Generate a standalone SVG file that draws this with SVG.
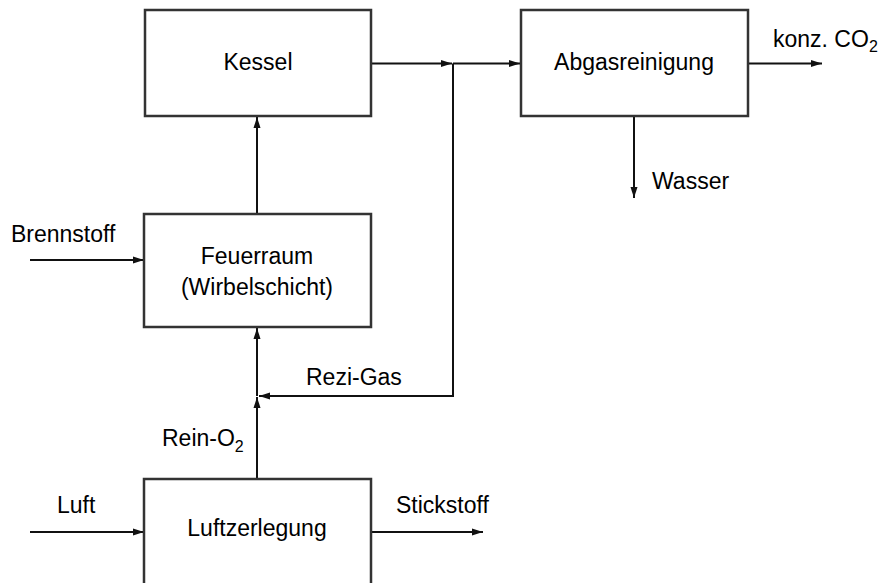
<svg xmlns="http://www.w3.org/2000/svg" width="885" height="583" viewBox="0 0 885 583">
<style>
.box{fill:#fff;stroke:#333;stroke-width:2.5}
.ln{fill:none;stroke:#111;stroke-width:2}
.t{font-family:"Liberation Sans",Arial,sans-serif;font-size:23px;fill:#000}
.m{text-anchor:middle}
.sub{font-size:16px}
</style>
<defs>
<marker id="ah" markerUnits="userSpaceOnUse" markerWidth="12" markerHeight="8" refX="11" refY="4" orient="auto">
<path d="M0,0.5 L11,4 L0,7.5 z" fill="#111"/>
</marker>
</defs>
<rect width="885" height="583" fill="#fff"/>
<g id="connectors">
<path class="ln" d="M257,214 V117" marker-end="url(#ah)"/>
<path class="ln" d="M372,63.5 H452" marker-end="url(#ah)"/>
<path class="ln" d="M453,63.5 H520" marker-end="url(#ah)"/>
<path class="ln" d="M453,63.5 V396 H259" marker-end="url(#ah)"/>
<path class="ln" d="M748,63.5 H822" marker-end="url(#ah)"/>
<path class="ln" d="M634,116 V198" marker-end="url(#ah)"/>
<path class="ln" d="M30,260 H144" marker-end="url(#ah)"/>
<path class="ln" d="M30,532 H144" marker-end="url(#ah)"/>
<path class="ln" d="M371,532 H483" marker-end="url(#ah)"/>
<path class="ln" d="M257,479 V397" marker-end="url(#ah)"/>
<path class="ln" d="M257,396 V328" marker-end="url(#ah)"/>
</g>
<g id="kessel">
<rect class="box" x="145" y="10" width="226" height="106"/>
<text class="t m" x="258" y="69.5">Kessel</text>
</g>
<g id="abgasreinigung">
<rect class="box" x="521" y="10" width="227" height="106"/>
<text class="t m" x="634" y="69.5">Abgasreinigung</text>
</g>
<g id="feuerraum">
<rect class="box" x="144" y="214" width="227" height="113"/>
<text class="t m" x="257" y="264">Feuerraum</text>
<text class="t m" x="257" y="295">(Wirbelschicht)</text>
</g>
<g id="luftzerlegung">
<rect class="box" x="144" y="479" width="227" height="130"/>
<text class="t m" x="257" y="536">Luftzerlegung</text>
</g>
<g id="labels">
<text class="t" x="773" y="47">konz. CO<tspan class="sub" dy="5">2</tspan></text>
<text class="t" x="652" y="189">Wasser</text>
<text class="t" x="11" y="242">Brennstoff</text>
<text class="t" x="306" y="385">Rezi-Gas</text>
<text class="t" x="162" y="446">Rein-O<tspan class="sub" dy="6">2</tspan></text>
<text class="t" x="57" y="513">Luft</text>
<text class="t" x="396" y="513">Stickstoff</text>
</g>
</svg>
